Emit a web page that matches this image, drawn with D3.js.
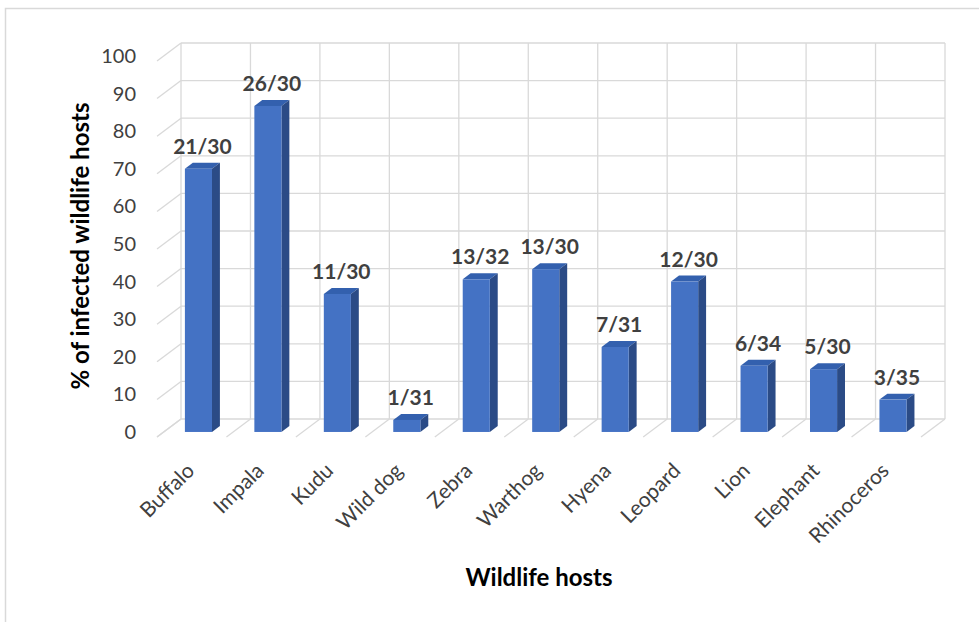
<!DOCTYPE html>
<html lang="en">
<head>
    <meta charset="UTF-8">
    <title>% of infected wildlife hosts</title>
    <script src="https://d3js.org/d3.v7.min.js"></script>
    <style>
        body { margin: 0; background: #fff; }
        svg { display: block; font-family: Lato, "Open Sans", sans-serif; }
        .grid { stroke: #d9d9d9; stroke-width: 1.3; fill: none; }
        .tick-label { font-size: 20px; fill: #404040; }
        .cat-label { font-size: 21px; fill: #404040; }
        .data-label { font-size: 21px; font-weight: bold; fill: #404040; }
        .axis-title { font-size: 24px; font-weight: bold; fill: #000; }
    </style>
</head>
<body>
    <svg id="chart" width="979" height="622"></svg>

    <script>
        // data
        const hosts = ["Buffalo", "Impala", "Kudu", "Wild dog", "Zebra", "Warthog",
                       "Hyena", "Leopard", "Lion", "Elephant", "Rhinoceros"];
        const infected = [70, 86.7, 36.7, 3.2, 40.6, 43.3, 22.6, 40, 17.6, 16.7, 8.6];
        const ratioLabels = ["21/30", "26/30", "11/30", "1/31", "13/32", "13/30",
                             "7/31", "12/30", "6/34", "5/30", "3/35"];
        const yTicks = [0, 10, 20, 30, 40, 50, 60, 70, 80, 90, 100];

        const svg = d3.select("#chart");

        // back wall of the 3d box
        const wall = {left: 181, right: 945, top: 43, bottom: 419};
        // offset of the front edge of the floor relative to the back wall
        const depth = {dx: -24, dy: 18};
        // bar sits between these depth fractions (0 = back wall, 1 = front)
        const barZ = [0.39, 0.72];

        const x = d3.scaleBand().domain(hosts).range([wall.left, wall.right]);
        const y = d3.scaleLinear().domain([0, 100]).range([wall.bottom, wall.top]);

        const proj = (px, v, z) => [px + depth.dx * z, y(v) + depth.dy * z];

        // outer frame
        svg.append("rect")
            .attr("x", 5.5).attr("y", 8.5)
            .attr("width", 1000).attr("height", 700)
            .attr("fill", "none").attr("stroke", "#d9d9d9").attr("stroke-width", 1.5);

        const grid = svg.append("g");

        // horizontal gridlines on back wall + diagonal on side wall
        yTicks.forEach(t => {
            grid.append("line").attr("class", "grid")
                .attr("x1", wall.left).attr("x2", wall.right)
                .attr("y1", y(t)).attr("y2", y(t));
            const f = proj(wall.left, t, 1);
            grid.append("line").attr("class", "grid")
                .attr("x1", f[0]).attr("y1", f[1])
                .attr("x2", wall.left).attr("y2", y(t));
        });

        // vertical gridlines on back wall + floor diagonals
        const dividers = hosts.map(h => x(h)).concat([wall.right]);
        dividers.forEach(d => {
            grid.append("line").attr("class", "grid")
                .attr("x1", d).attr("x2", d)
                .attr("y1", wall.top).attr("y2", wall.bottom);
            const f = proj(d, 0, 1);
            grid.append("line").attr("class", "grid")
                .attr("x1", d).attr("y1", wall.bottom)
                .attr("x2", f[0]).attr("y2", f[1]);
        });

        // y tick labels
        svg.append("g").selectAll("text")
            .data(yTicks)
            .join("text")
            .attr("class", "tick-label")
            .attr("x", 136)
            .attr("y", d => proj(0, d, 1)[1] - 3)
            .attr("text-anchor", "end")
            .attr("dominant-baseline", "middle")
            .text(d => d);

        // 3d bars
        const bw = x.bandwidth() * 0.39;
        const bars = svg.append("g");
        hosts.forEach((h, i) => {
            const cx = x(h) + x.bandwidth() / 2;
            const v = infected[i];
            const fl = cx - bw / 2, fr = cx + bw / 2;
            const p = (px, val, z) => proj(px, val, z).join(",");
            const zf = barZ[1], zb = barZ[0];

            // top face
            bars.append("polygon")
                .attr("points", [p(fl, v, zf), p(fr, v, zf), p(fr, v, zb), p(fl, v, zb)].join(" "))
                .attr("fill", "#3360AE");
            // side face
            bars.append("polygon")
                .attr("points", [p(fr, 0, zf), p(fr, v, zf), p(fr, v, zb), p(fr, 0, zb)].join(" "))
                .attr("fill", "#2B4B86");
            // front face
            const a = proj(fl, v, zf), b = proj(fr, 0, zf);
            bars.append("rect")
                .attr("x", a[0]).attr("y", a[1])
                .attr("width", b[0] - a[0]).attr("height", b[1] - a[1])
                .attr("fill", "#4472C4");

            // data label
            const top = proj(cx, v, zb);
            bars.append("text")
                .attr("class", "data-label")
                .attr("x", (a[0] + proj(fr, v, zb)[0]) / 2)
                .attr("y", top[1] - 9)
                .attr("text-anchor", "middle")
                .text(ratioLabels[i]);
        });

        // category labels
        svg.append("g").selectAll("text")
            .data(hosts)
            .join("text")
            .attr("class", "cat-label")
            .attr("text-anchor", "end")
            .attr("transform", d => {
                const f = proj(x(d) + x.bandwidth() / 2, 0, 1);
                return `translate(${f[0] + 4},${f[1] + 35}) rotate(-45)`;
            })
            .text(d => d);

        // axis titles
        svg.append("text")
            .attr("class", "axis-title")
            .attr("text-anchor", "middle")
            .attr("transform", "translate(89,246) rotate(-90)")
            .text("% of infected wildlife hosts");

        svg.append("text")
            .attr("class", "axis-title")
            .attr("x", 539).attr("y", 586)
            .attr("text-anchor", "middle")
            .text("Wildlife hosts");
    </script>
</body>
</html>
